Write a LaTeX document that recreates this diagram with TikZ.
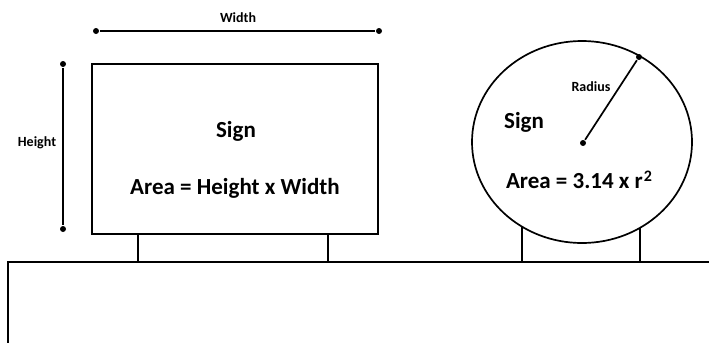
\documentclass[tikz,border=0pt]{standalone}
\usepackage{fontspec}
\setmainfont{Carlito}
\begin{document}
\begin{tikzpicture}[x=1pt, y=-1pt, line width=1.7pt]
\tikzset{enddot/.style={circle, fill, inner sep=0pt, minimum size=6pt},
    bigtext/.style={font=\fontsize{23}{26}\selectfont\bfseries},
    smalltext/.style={font=\fontsize{14}{16}\selectfont\bfseries}}
\useasboundingbox (0,0) rectangle (709,343);

% ground
\coordinate (gl) at (8,343);
\coordinate (gc) at (8,262);
\coordinate (gr) at (709,262);
\draw (gr)--(gc)--(gl);

% rectangular sign
\draw (92,64) rectangle (378,234);
\foreach \x in {138,328}
{
    \draw (\x,234)--(\x,262);
}
\node[bigtext] (signa) at (236,131) {Sign};
\node[bigtext] (areaa) at (235,188) {Area = Height x Width};

% width and height
\node[enddot] (wl) at (96,31) {};
\node[enddot] (wr) at (379,31) {};
\draw (wl)--(wr);
\node[smalltext] (wlab) at (238,18) {Width};
\node[enddot] (ht) at (63,64) {};
\node[enddot] (hb) at (63,229) {};
\draw (ht)--(hb);
\node[smalltext] (hlab) at (37,143) {Height};

% round sign
\foreach \x in {522,640}
{
    \draw (\x,215)--(\x,262);
}
\draw[fill=white] (582,142) ellipse [x radius=110, y radius=101];
\node[enddot] (ctr) at (583,143) {};
\node[enddot] (rim) at (639,57) {};
\draw (ctr)--(rim);
\node[smalltext] (rlab) at (591,87) {Radius};
\node[bigtext] (signb) at (524,122) {Sign};
\node[bigtext] (areab) at (579,180) {Area = 3.14 x r\kern1pt\raisebox{0.32em}{\fontsize{16}{16}\selectfont 2}};
\end{tikzpicture}
\end{document}
